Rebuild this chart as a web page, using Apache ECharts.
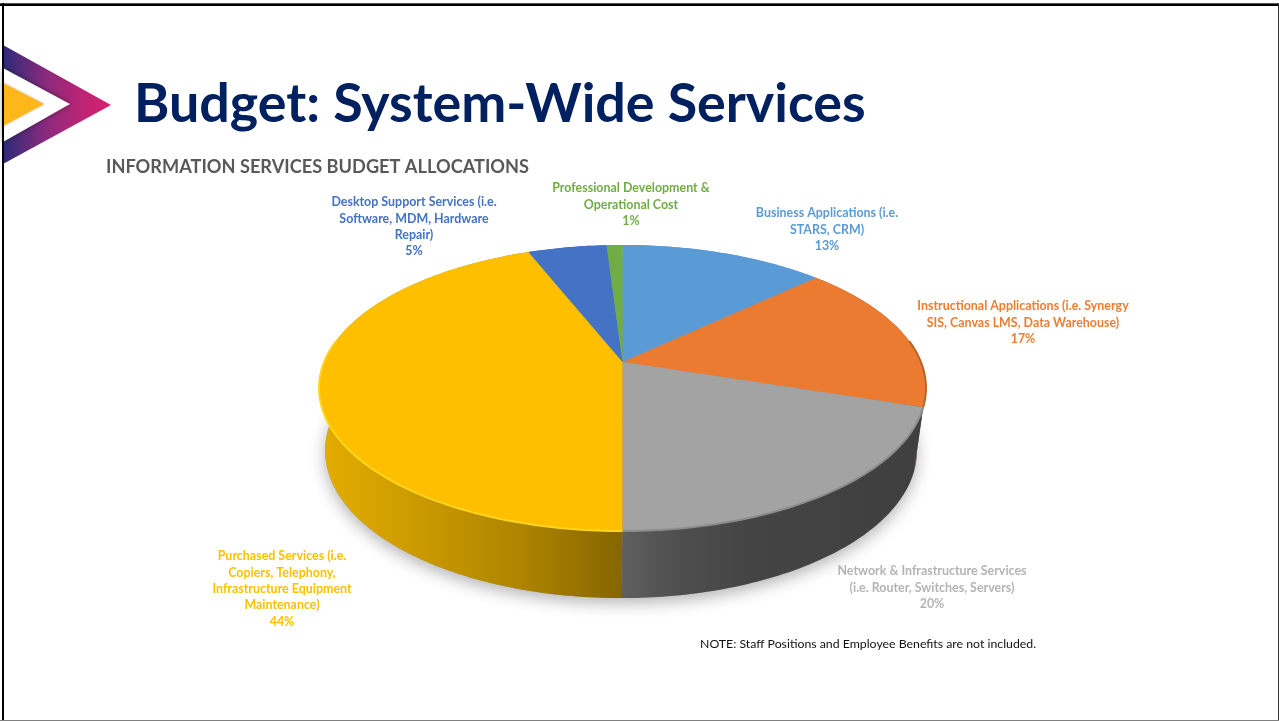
<!DOCTYPE html>
<html>
<head>
<meta charset="utf-8">
<title>Budget: System-Wide Services</title>
<script src="https://cdn.jsdelivr.net/npm/echarts@6/dist/echarts.min.js"></script>
<style>
  html, body { margin: 0; padding: 0; background: #fff; }
  #chart { width: 1279px; height: 721px; }
</style>
</head>
<body>
<div id="chart"></div>
<script>
// Budget shares, clockwise from twelve o'clock
const categories = [
  'Business Applications (i.e.\nSTARS, CRM)',
  'Instructional Applications (i.e. Synergy\nSIS, Canvas LMS, Data Warehouse)',
  'Network & Infrastructure Services\n(i.e. Router, Switches, Servers)',
  'Purchased Services (i.e.\nCopiers, Telephony,\nInfrastructure Equipment\nMaintenance)',
  'Desktop Support Services (i.e.\nSoftware, MDM, Hardware\nRepair)',
  'Professional Development &\nOperational Cost'
];
const shares = [13, 17, 20, 44, 5, 1];

const sliceColors = ['#5B9BD5', '#EB7B30', '#A3A3A3', '#FDBF00', '#4472C4', '#70AD47'];
const rimColors = ['#5B9BD5', '#B5662B', '#8C8C8C', '#FFD51E', '#4472C4', '#70AD47'];
const labelColors = ['#5B9BD5', '#ED7D31', '#B4B4B4', '#FFC000', '#4472C4', '#70AD47'];
const labelAnchors = [[827, 205], [1023, 298], [932, 563], [282, 548], [414, 194], [631, 180]];

// Perspective tilted disc: the near half of the rim sits further from the hub
const disc = { cx: 622.5, cy: 362, a: 298.4, b: 138.3, k: 0.1818 };
const base = { dx: -1.5, dy: 62, sx: 0.975, sy: 1.03 };

function topPoint(t) {
  const w = 1 + disc.k * Math.cos(t);
  return [disc.cx + disc.a * Math.sin(t) / w, disc.cy - disc.b * Math.cos(t) / w];
}
function basePoint(t) {
  const w = 1 + disc.k * Math.cos(t);
  return [
    disc.cx + base.dx + base.sx * disc.a * Math.sin(t) / w,
    disc.cy + base.dy - base.sy * disc.b * Math.cos(t) / w
  ];
}
function arc(project, from, to) {
  const steps = Math.max(2, Math.ceil((to - from) / (Math.PI / 180)));
  const pts = [];
  for (let i = 0; i <= steps; i++) pts.push(project(from + (to - from) * i / steps));
  return pts;
}

const total = shares.reduce((s, v) => s + v, 0);
function sliceAngles(index, value) {
  let before = 0;
  for (let i = 0; i < index; i++) before += shares[i];
  const from = before / total * Math.PI * 2;
  return [from, from + value / total * Math.PI * 2];
}

const Gradient = echarts.graphic.LinearGradient;
const wallFills = {
  1: '#8A5526',
  2: new Gradient(621, 0, 916, 0, [
    { offset: 0, color: '#606060' }, { offset: 0.2, color: '#4E4E4E' },
    { offset: 0.45, color: '#444444' }, { offset: 1, color: '#3F3F3F' }
  ], true),
  3: new Gradient(325, 0, 621, 0, [
    { offset: 0, color: '#E2AC00' }, { offset: 0.3, color: '#CC9B00' },
    { offset: 0.65, color: '#AF8500' }, { offset: 1, color: '#866600' }
  ], true)
};

function renderShadow(params, api) {
  const [from, to] = sliceAngles(params.dataIndex, api.value(0));
  return {
    type: 'polygon',
    shape: { points: [[disc.cx + base.dx, disc.cy + base.dy]].concat(arc(basePoint, from, to)) },
    style: { fill: '#999', shadowBlur: 16, shadowColor: 'rgba(0,0,0,0.3)', shadowOffsetY: 5 },
    silent: true
  };
}

function renderWall(params, api) {
  const [from, to] = sliceAngles(params.dataIndex, api.value(0));
  const pts = arc(topPoint, from, to).concat(arc(basePoint, from, to).reverse());
  return {
    type: 'polygon',
    shape: { points: pts },
    style: { fill: wallFills[params.dataIndex] || sliceColors[params.dataIndex] },
    silent: true
  };
}

function renderFace(params, api) {
  const i = params.dataIndex;
  const value = api.value(0);
  const [from, to] = sliceAngles(i, value);
  const rim = arc(topPoint, from, to);
  // The bevel only catches the light along the near part of the rim
  const nearFrom = Math.max(from, Math.PI * 0.45);
  const nearTo = Math.min(to, Math.PI * 1.55);
  const anchor = labelAnchors[i];
  const children = [
    {
      type: 'polygon',
      shape: { points: [[disc.cx, disc.cy]].concat(rim) },
      style: { fill: sliceColors[i] },
      silent: true
    }
  ];
  if (nearTo > nearFrom) {
    children.push({
      type: 'polyline',
      shape: { points: arc(topPoint, nearFrom, nearTo) },
      style: { stroke: rimColors[i], lineWidth: 2, fill: null },
      silent: true
    });
  }
  children.push({
    type: 'text',
    x: anchor[0],
    y: anchor[1],
    style: {
      text: categories[i] + '\n' + value + '%',
      fill: labelColors[i],
      fontFamily: 'Lato',
      fontWeight: 700,
      fontSize: 12.45,
      lineHeight: 16.4,
      align: 'center',
      verticalAlign: 'top'
    },
    silent: true
  });
  return { type: 'group', children };
}

const pageGraphics = [
  { type: 'polygon', z: 5, shape: { points: [[3, 45], [111, 105], [3, 164]] },
    style: { fill: new Gradient(3, 0, 111, 0, [
      { offset: 0, color: '#2C2A78' }, { offset: 0.4, color: '#8B2A7C' },
      { offset: 0.75, color: '#BE2474' }, { offset: 1, color: '#DA2070' }
    ], true) } },
  { type: 'polygon', z: 6, shape: { points: [[3, 68], [70, 104], [3, 142]] },
    style: { fill: '#fff', shadowBlur: 5, shadowColor: 'rgba(0,0,0,0.45)' } },
  { type: 'polygon', z: 7, shape: { points: [[3, 83], [44, 104], [3, 126]] },
    style: { fill: '#FDB71A', shadowBlur: 3, shadowColor: 'rgba(0,0,0,0.3)' } },
  { type: 'rect', z: 10, shape: { x: 0, y: 3, width: 1279, height: 1 }, style: { fill: '#555' } },
  { type: 'rect', z: 10, shape: { x: 0, y: 4, width: 1279, height: 2 }, style: { fill: '#000' } },
  { type: 'rect', z: 10, shape: { x: 2, y: 3, width: 2, height: 718 }, style: { fill: '#000' } },
  { type: 'rect', z: 10, shape: { x: 1278, y: 3, width: 1, height: 718 }, style: { fill: '#333' } },
  { type: 'rect', z: 10, shape: { x: 0, y: 720, width: 1279, height: 1 }, style: { fill: '#808080' } }
];

const chart = echarts.init(document.getElementById('chart'), null, { renderer: 'canvas' });
chart.setOption({
  animation: false,
  backgroundColor: '#ffffff',
  title: [
    { text: 'Budget: System-Wide Services', left: 129, top: 72.5,
      textStyle: { fontFamily: 'Lato', fontWeight: 700, fontSize: 53.8, color: '#002060' } },
    { text: 'INFORMATION SERVICES BUDGET ALLOCATIONS', left: 101, top: 153,
      textStyle: { fontFamily: 'Lato', fontWeight: 700, fontSize: 18.2, color: '#595959' } },
    { text: 'NOTE: Staff Positions and Employee Benefits are not included.', left: 695, top: 633,
      textStyle: { fontFamily: 'Lato', fontWeight: 400, fontSize: 12.3, color: '#111111' } }
  ],
  graphic: pageGraphics,
  series: [
    { type: 'custom', name: 'shadow', coordinateSystem: 'none', z: 1, clip: false, data: shares, renderItem: renderShadow },
    { type: 'custom', name: 'wall', coordinateSystem: 'none', z: 2, clip: false, data: shares, renderItem: renderWall },
    { type: 'custom', name: 'face', coordinateSystem: 'none', z: 3, clip: false, data: shares, renderItem: renderFace }
  ]
});
</script>
</body>
</html>
